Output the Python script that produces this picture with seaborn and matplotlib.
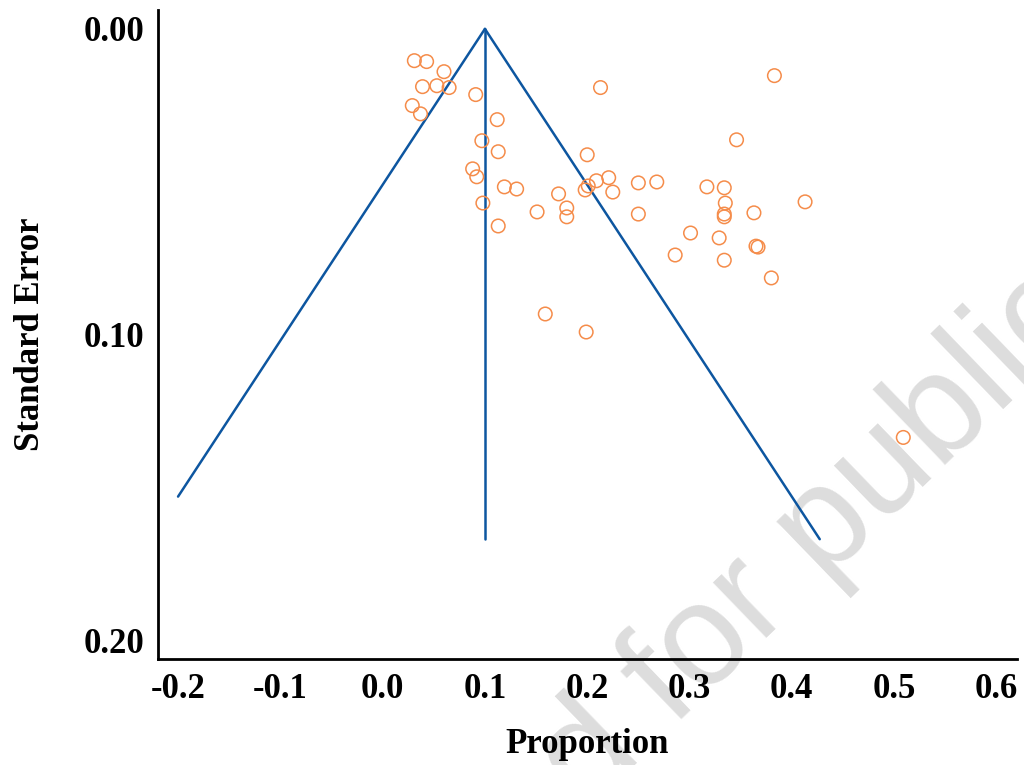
import numpy as np
import pandas as pd
import matplotlib
matplotlib.use("Agg")
import matplotlib.pyplot as plt
import seaborn as sns

# study estimates (proportion) and their standard errors
proportion = [0.031, 0.043, 0.060, 0.039, 0.053, 0.065, 0.091, 0.029, 0.037,
              0.112, 0.097, 0.113, 0.088, 0.092, 0.119, 0.131, 0.098, 0.113,
              0.213, 0.383, 0.346, 0.200, 0.209, 0.221, 0.198, 0.201, 0.225,
              0.250, 0.268, 0.317, 0.334, 0.172, 0.180, 0.180, 0.151, 0.250,
              0.335, 0.334, 0.334, 0.363, 0.413, 0.301, 0.329, 0.365, 0.367,
              0.286, 0.334, 0.380, 0.159, 0.199, 0.509]
std_error = [0.0104, 0.0107, 0.0140, 0.0189, 0.0186, 0.0192, 0.0215, 0.0251, 0.0278,
             0.0297, 0.0366, 0.0402, 0.0458, 0.0484, 0.0517, 0.0524, 0.0570, 0.0645,
             0.0192, 0.0153, 0.0363, 0.0412, 0.0497, 0.0487, 0.0527, 0.0514, 0.0534,
             0.0504, 0.0501, 0.0517, 0.0520, 0.0540, 0.0586, 0.0615, 0.0599, 0.0606,
             0.0570, 0.0606, 0.0615, 0.0602, 0.0566, 0.0668, 0.0684, 0.0711, 0.0714,
             0.0740, 0.0757, 0.0815, 0.0933, 0.0992, 0.1337]

pooled = 0.10
se_max = 0.167
z = 1.96
x_min = -0.2

df = pd.DataFrame({"Proportion": proportion, "SE": std_error})

# funnel limits: pooled +/- 1.96*SE, left arm stops at the axis edge
se_left = (pooled - x_min) / z
left_x = [x_min, pooled]
left_se = [se_left, 0.0]
right_x = [pooled, pooled + z * se_max]
right_se = [0.0, se_max]
mid_x = [pooled, pooled]
mid_se = [0.0, se_max]

sns.set_style("white")
plt.rcParams["font.family"] = ["Liberation Serif", "DejaVu Serif"]
plt.rcParams["font.weight"] = "bold"
plt.rcParams["axes.unicode_minus"] = False
plt.rcParams["text.color"] = "black"
plt.rcParams["axes.labelcolor"] = "black"
plt.rcParams["xtick.labelcolor"] = "black"
plt.rcParams["ytick.labelcolor"] = "black"

fig = plt.figure(figsize=(10.24, 7.65), dpi=100)

# faint watermark behind the plot
fig.text(0.722, 0.200, "Accepted for publication", fontsize=104, color="#dddddd",
         rotation=44, ha="center", va="center", family="Liberation Sans",
         fontweight="normal", zorder=-1, rotation_mode="anchor")

ax = fig.add_axes([0.1543, 0.1386, 0.8387, 0.8484])
ax.patch.set_alpha(0)

line_col = "#0d56a0"
ax.plot(left_x, left_se, color=line_col, linewidth=1.8)
ax.plot(right_x, right_se, color=line_col, linewidth=1.8)
ax.plot(mid_x, mid_se, color=line_col, linewidth=1.8)

sns.scatterplot(data=df, x="Proportion", y="SE", ax=ax, marker="o",
                s=95, facecolors="none", edgecolor="#f58c4a", linewidth=1.1,
                zorder=3)

ax.set_xlim(-0.2196, 0.620)
ax.set_ylim(0.2062, -0.0062)
ax.set_xticks(np.round(np.arange(-0.2, 0.61, 0.1), 1))
ax.set_xticklabels([f"{t:.1f}" for t in np.arange(-0.2, 0.61, 0.1)])
ax.set_yticks([0.0, 0.10, 0.20])
ax.set_yticklabels(["0.00", "0.10", "0.20"])
ax.set_yticks([0.05, 0.15], minor=True)

ax.tick_params(axis="x", direction="in", length=11.5, width=1.5, color="#444444",
               labelsize=25, pad=10)
ax.tick_params(axis="y", which="major", direction="in", length=13, width=1.5,
               color="#444444", labelsize=25, pad=10)
ax.tick_params(axis="y", which="minor", direction="in", length=6.5, width=1.0,
               color="#444444")
for lab in ax.get_xticklabels() + ax.get_yticklabels():
    lab.set_fontweight("bold")

for side in ["top", "right"]:
    ax.spines[side].set_visible(False)
for side in ["left", "bottom"]:
    ax.spines[side].set_linewidth(2)
    ax.spines[side].set_color("black")

ax.set_xlabel("Proportion", fontsize=25, fontweight="bold", labelpad=16)
ax.set_ylabel("Standard Error", fontsize=25, fontweight="bold", labelpad=26)

plt.savefig("out.png", dpi=100)
plt.close()
